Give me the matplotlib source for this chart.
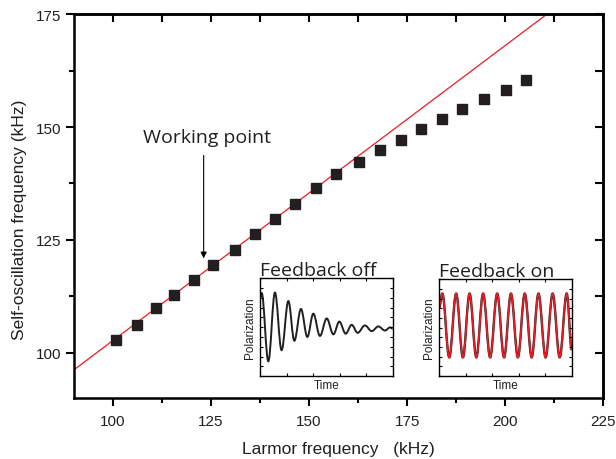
import matplotlib
matplotlib.use("Agg")
import matplotlib.pyplot as plt
from matplotlib.path import Path
from matplotlib.patches import PathPatch
from matplotlib.ticker import MultipleLocator, NullFormatter

plt.rcParams['font.family'] = ['Liberation Sans', 'DejaVu Sans']
TITLE_FONT = ['Open Sans', 'DejaVu Sans']

# ---- main data (kHz) ----
larmor = [100.8, 106.1, 111.0, 115.6, 120.7, 125.5, 131.0, 136.3, 141.4, 146.5,
          151.7, 156.8, 162.7, 168.2, 173.4, 178.5, 184.0, 189.0, 194.7, 200.3, 205.4]
self_osc = [102.9, 106.2, 109.8, 112.8, 116.1, 119.4, 122.7, 126.2, 129.7, 132.9,
            136.5, 139.7, 142.3, 144.9, 147.1, 149.5, 151.8, 154.1, 156.3, 158.2, 160.4]

fit_x = [90, 225]
fit_slope = 0.653
fit_intercept = 96.2 - 0.653 * 90

# ---- inset signals (extrema, normalized axes) ----
off_t = [0.0, 0.013, 0.063, 0.113, 0.163, 0.214, 0.259, 0.309, 0.357, 0.402, 0.452,
         0.503, 0.553, 0.598, 0.646, 0.691, 0.736, 0.791, 0.842, 0.892, 0.942, 0.980, 1.0]
off_v = [0.80, 0.848, 0.152, 0.854, 0.265, 0.767, 0.362, 0.686, 0.401, 0.638, 0.411,
         0.589, 0.427, 0.557, 0.434, 0.524, 0.443, 0.518, 0.460, 0.508, 0.466, 0.498, 0.485]

on_t = [0.0, 0.025, 0.077, 0.129, 0.180, 0.230, 0.281, 0.332, 0.385, 0.438, 0.490,
        0.542, 0.594, 0.646, 0.698, 0.749, 0.803, 0.856, 0.909, 0.962, 1.0]
on_v = [0.70, 0.851, 0.194, 0.851, 0.194, 0.851, 0.194, 0.851, 0.194, 0.851, 0.194,
        0.851, 0.194, 0.851, 0.194, 0.851, 0.194, 0.851, 0.194, 0.851, 0.27]

x_ticks = [100, 125, 150, 175, 200, 225]
y_ticks = [100, 125, 150, 175]

red = '#ed1c24'
dark = '#231f20'
text_col = '#231f20'


def wave_path(ts, vs, k=0.364):
    verts = [(ts[0], vs[0])]
    codes = [Path.MOVETO]
    for i in range(len(ts) - 1):
        t0, v0, t1, v1 = ts[i], vs[i], ts[i + 1], vs[i + 1]
        dt = t1 - t0
        verts += [(t0 + k * dt, v0), (t1 - k * dt, v1), (t1, v1)]
        codes += [Path.CURVE4] * 3
    return Path(verts, codes)


fig = plt.figure(figsize=(6.16, 4.6), dpi=100)
ax = fig.add_axes([0.120, 0.133, 0.859, 0.834])

ax.plot(fit_x, [fit_intercept + fit_slope * x for x in fit_x], color=red, lw=0.9, zorder=2)
ax.plot(larmor, self_osc, 's', color=dark, ms=7.3, zorder=3)

ax.set_xlim(90, 225)
ax.set_ylim(90, 175)
ax.set_xticks(x_ticks)
ax.set_yticks(y_ticks)
ax.xaxis.set_minor_locator(MultipleLocator(12.5))
ax.yaxis.set_minor_locator(MultipleLocator(12.5))
ax.tick_params(which='both', direction='out', width=1.5, labelsize=11,
               colors='black', labelcolor=text_col)
ax.tick_params(which='major', length=6)
ax.tick_params(which='minor', length=3.5)
ax.tick_params(axis='x', pad=6)
ax.tick_params(axis='y', pad=3)
for s in ax.spines.values():
    s.set_linewidth(1.8)

# mirrored ticks pointing inward on top/right
sec_x = ax.secondary_xaxis('top')
sec_x.set_xticks(x_ticks)
sec_x.xaxis.set_minor_locator(MultipleLocator(12.5))
sec_x.tick_params(which='both', direction='in', length=6, width=1.5, labeltop=False)
sec_x.xaxis.set_major_formatter(NullFormatter())
sec_x.spines['top'].set_linewidth(1.8)
sec_y = ax.secondary_yaxis('right')
sec_y.set_yticks(y_ticks)
sec_y.yaxis.set_minor_locator(MultipleLocator(12.5))
sec_y.tick_params(which='both', direction='in', length=6, width=1.5, labelright=False)
sec_y.yaxis.set_major_formatter(NullFormatter())
sec_y.spines['right'].set_linewidth(1.8)

ax.set_xlabel('Larmor frequency   (kHz)', fontsize=12.5, labelpad=9, color=text_col)
ax.set_ylabel('Self-oscillation frequency (kHz)', fontsize=12.5, color=text_col,
              va='center')
ax.yaxis.set_label_coords(-0.102, 0.466)

ax.annotate('', xy=(123.1, 120.9), xytext=(123.1, 143.7),
            arrowprops=dict(arrowstyle='-|>', lw=0.8, color='black', mutation_scale=9,
                            shrinkA=0, shrinkB=0))
ax.text(123.9, 147.8, 'Working point', fontsize=14, ha='center', va='center',
        color=text_col, family=TITLE_FONT)


def make_inset(rect, title, ts, vs, on=False):
    ia = fig.add_axes(rect)
    if on:
        ia.add_patch(PathPatch(wave_path(ts, vs), fc='none', ec=dark, lw=1.7))
        ia.add_patch(PathPatch(wave_path(ts, vs), fc='none', ec=red, lw=1.2))
    else:
        ia.add_patch(PathPatch(wave_path(ts, vs), fc='none', ec=dark, lw=1.4))
    ia.set_xlim(0, 1)
    ia.set_ylim(0, 1)
    ia.xaxis.set_major_locator(MultipleLocator(0.2))
    ia.yaxis.set_major_locator(MultipleLocator(0.1))
    ia.tick_params(which='both', direction='in', length=2.5, width=0.8,
                   top=True, right=True, labelbottom=False, labelleft=False)
    for s in ia.spines.values():
        s.set_linewidth(1.0)
    ia.set_xlabel('Time', fontsize=8.5, labelpad=2, color=text_col)
    ia.set_ylabel('Polarization', fontsize=8.5, labelpad=3, color=text_col)
    ia.set_title(title, fontsize=14, loc='left', pad=2, color=text_col, family=TITLE_FONT)
    return ia


make_inset([0.422, 0.180, 0.2155, 0.213], 'Feedback off', off_t, off_v)
make_inset([0.7127, 0.180, 0.2155, 0.211], 'Feedback on', on_t, on_v, on=True)

fig.savefig('out.png', dpi=100)
